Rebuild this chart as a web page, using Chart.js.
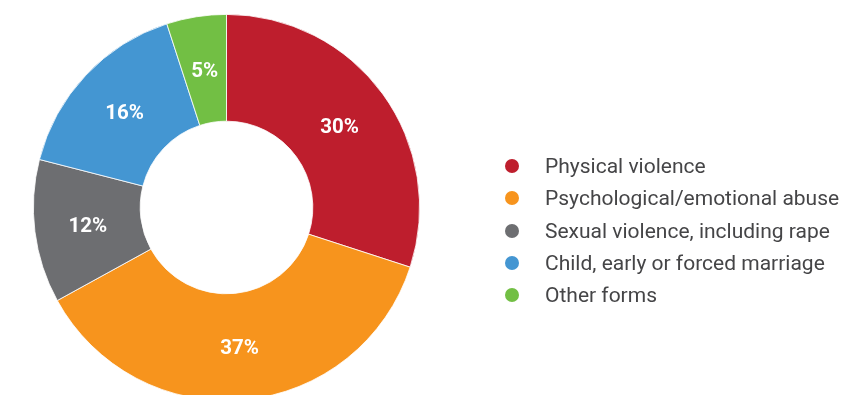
<!DOCTYPE html>
<html>
<head>
<meta charset="utf-8">
<script src="https://cdn.jsdelivr.net/npm/chart.js@4.4.1/dist/chart.umd.min.js"></script>
<style>
  html, body { margin: 0; padding: 0; background: #fff; overflow: hidden; }
  #wrap { position: relative; width: 850px; height: 395px; overflow: hidden; }
  #c { position: absolute; left: 0; top: 0; }
  #legend { position: absolute; left: 0; top: 0; font-family: Roboto, sans-serif; font-size: 21px; color: #454547; }
  .item { position: absolute; left: 504px; height: 32px; line-height: 32px; white-space: nowrap; }
  .dot { position: absolute; left: 1px; top: 9px; width: 14px; height: 14px; border-radius: 50%; }
  .txt { position: absolute; left: 41px; top: 0; }
</style>
</head>
<body>
<div id="wrap">
  <canvas id="c" width="850" height="415"></canvas>
  <div id="legend"></div>
</div>
<script>
const categories = [
  "Physical violence",
  "Psychological/emotional abuse",
  "Sexual violence, including rape",
  "Child, early or forced marriage",
  "Other forms"
];
const values = [30, 37, 12, 16, 5];
const colors = ["#BE1E2D", "#F7941D", "#6D6E71", "#4496D2", "#72BF44"];

// legend
const legend = document.getElementById('legend');
categories.forEach((name, i) => {
  const it = document.createElement('div');
  it.className = 'item';
  it.style.top = (150 + i * 32.3) + 'px';
  it.innerHTML = '<span class="dot" style="background:' + colors[i] + '"></span><span class="txt">' + name + '</span>';
  legend.appendChild(it);
});

const labelPlugin = {
  id: 'sliceLabels',
  afterDatasetsDraw(chart) {
    const ctx = chart.ctx;
    const meta = chart.getDatasetMeta(0);
    ctx.save();
    ctx.fillStyle = '#ffffff';
    ctx.font = 'bold 20.5px Roboto, sans-serif';
    ctx.textAlign = 'center';
    ctx.textBaseline = 'middle';
    meta.data.forEach((arc, i) => {
      const p = arc.tooltipPosition();
      ctx.fillText(values[i] + '%', p.x, p.y + 2);
    });
    ctx.restore();
  }
};

new Chart(document.getElementById('c'), {
  type: 'doughnut',
  data: {
    labels: categories,
    datasets: [{
      data: values,
      backgroundColor: colors,
      borderColor: '#ffffff',
      borderWidth: 0.8,
      hoverOffset: 0
    }]
  },
  options: {
    responsive: false,
    maintainAspectRatio: false,
    devicePixelRatio: 1,
    animation: false,
    cutout: '44.7%',
    layout: { padding: { left: 33, top: 14, right: 430, bottom: 14 } },
    plugins: {
      legend: { display: false },
      tooltip: { enabled: false }
    }
  },
  plugins: [labelPlugin]
});
</script>
</body>
</html>
